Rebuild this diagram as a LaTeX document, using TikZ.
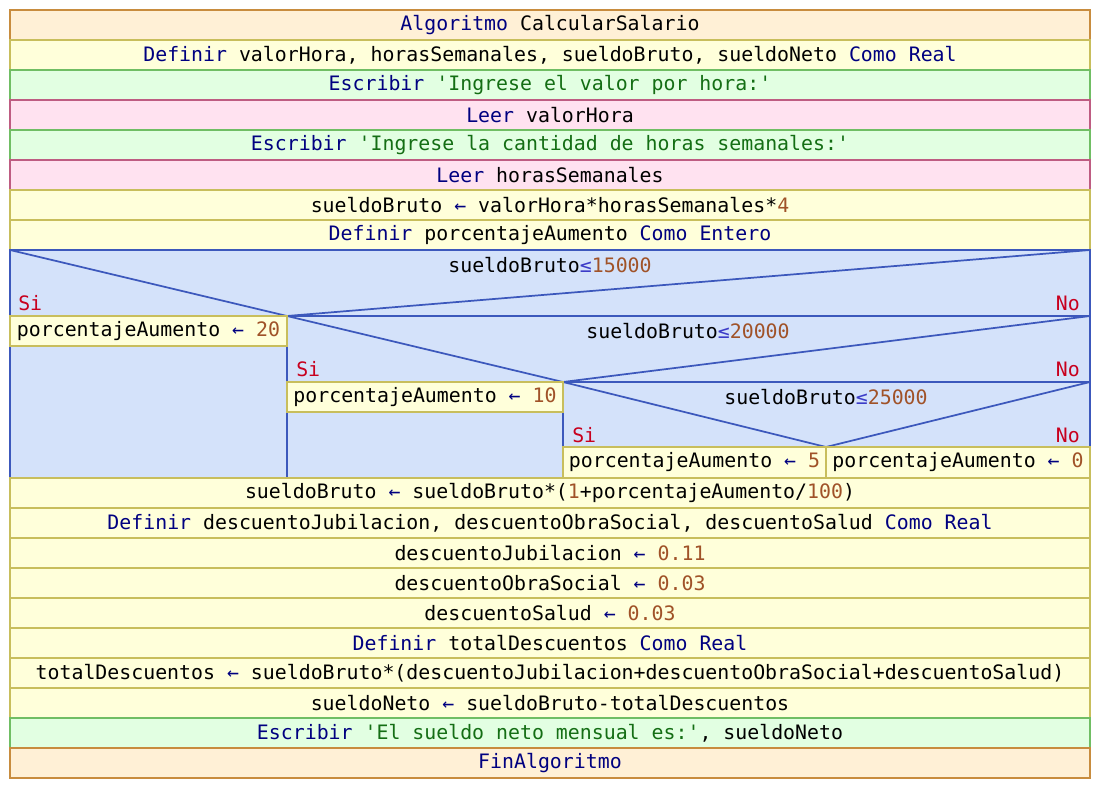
\documentclass[tikz,border=0pt]{standalone}
\usepackage{fontspec}
\setmonofont{DejaVu Sans Mono}

\definecolor{algfill}{RGB}{255,240,214}
\definecolor{algline}{RGB}{200,140,62}
\definecolor{deffill}{RGB}{255,255,218}
\definecolor{defline}{RGB}{200,190,92}
\definecolor{escfill}{RGB}{226,255,226}
\definecolor{escline}{RGB}{112,190,100}
\definecolor{leefill}{RGB}{255,226,240}
\definecolor{leeline}{RGB}{190,92,130}
\definecolor{siffill}{RGB}{212,226,250}
\definecolor{sifline}{RGB}{60,88,188}
\definecolor{kwdcol}{RGB}{0,0,128}
\definecolor{txtcol}{RGB}{20,110,20}
\definecolor{nmbcol}{RGB}{160,82,40}
\definecolor{mnrcol}{RGB}{60,60,200}
\definecolor{sinocol}{RGB}{200,0,30}

\newcommand{\kwd}[1]{\textcolor{kwdcol}{#1}}
\newcommand{\txt}[1]{\textcolor{txtcol}{#1}}
\newcommand{\nmb}[1]{\textcolor{nmbcol}{#1}}
\newcommand{\asig}{\textcolor{kwdcol}{←}}
\newcommand{\mnr}{\textcolor{mnrcol}{≤}}

\tikzset{
  algrow/.style={fill=algfill, draw=algline, line width=1.2pt},
  defrow/.style={fill=deffill, draw=defline, line width=1.2pt},
  escrow/.style={fill=escfill, draw=escline, line width=1.2pt},
  leerow/.style={fill=leefill, draw=leeline, line width=1.2pt},
  sifrow/.style={fill=siffill, draw=sifline, line width=1.2pt},
  sifline/.style={draw=sifline, line width=1.3pt},
  sino/.style={text=sinocol}
}

\begin{document}
\begin{tikzpicture}[x=0.75pt, y=-0.75pt,
    every node/.style={font=\ttfamily\fontsize{14.9}{18}\selectfont, inner sep=0pt}]
  \useasboundingbox (0,0) rectangle (1100,788);

  \draw[algrow] (10,10) rectangle (1090,40) node[midway] (inicio) {\kwd{Algoritmo} CalcularSalario};
  \draw[defrow] (10,40) rectangle (1090,70) node[midway] (defvars) {\kwd{Definir} valorHora, horasSemanales, sueldoBruto, sueldoNeto \kwd{Como Real}};
  \draw[escrow] (10,70) rectangle (1090,100) node[midway] (escvalor) {\kwd{Escribir} \txt{'Ingrese el valor por hora:'}};
  \draw[leerow] (10,100) rectangle (1090,130) node[midway] (leevalor) {\kwd{Leer} valorHora};
  \draw[escrow] (10,130) rectangle (1090,160) node[midway] (eschoras) {\kwd{Escribir} \txt{'Ingrese la cantidad de horas semanales:'}};
  \draw[leerow] (10,160) rectangle (1090,190) node[midway] (leehoras) {\kwd{Leer} horasSemanales};
  \draw[defrow] (10,190) rectangle (1090,220) node[midway] (calcbruto) {sueldoBruto \asig{} valorHora*horasSemanales*\nmb{4}};
  \draw[defrow] (10,220) rectangle (1090,250) node[midway] (defporc) {\kwd{Definir} porcentajeAumento \kwd{Como Entero}};

  % bloque de condiciones
  \draw[sifrow] (10,250) rectangle (1090,478);
  \coordinate (sia) at (287,316);
  \coordinate (sib) at (563,382);
  \coordinate (sic) at (826,447);
  \draw[sifline] (10,250) -- (sia) -- (1090,250);
  \draw[sifline] (sia) -- (1090,316);
  \draw[sifline] (sia) -- (sib) -- (1090,316);
  \draw[sifline] (sib) -- (1090,382);
  \draw[sifline] (sib) -- (sic) -- (1090,382);
  \draw[sifline] (sia) -- (287,478);
  \draw[sifline] (sib) -- (563,478);
  \node (cond1) at (550,265) {sueldoBruto\mnr\nmb{15000}};
  \node (cond2) at (688,331) {sueldoBruto\mnr\nmb{20000}};
  \node (cond3) at (826,397) {sueldoBruto\mnr\nmb{25000}};
  \node[sino, anchor=west] (si1) at (18,303) {Si};
  \node[sino, anchor=east] (no1) at (1080,303) {No};
  \node[sino, anchor=west] (si2) at (296,369) {Si};
  \node[sino, anchor=east] (no2) at (1080,369) {No};
  \node[sino, anchor=west] (si3) at (572,435) {Si};
  \node[sino, anchor=east] (no3) at (1080,435) {No};
  \draw[defrow] (10,316) rectangle (287,346) node[midway] (porc20) {porcentajeAumento \asig{} \nmb{20}};
  \draw[defrow] (287,382) rectangle (563,412) node[midway] (porc10) {porcentajeAumento \asig{} \nmb{10}};
  \draw[defrow] (563,447) rectangle (826,478) node[midway] (porc5) {porcentajeAumento \asig{} \nmb{5}};
  \draw[defrow] (826,447) rectangle (1090,478) node[midway] (porc0) {porcentajeAumento \asig{} \nmb{0}};

  \draw[defrow] (10,478) rectangle (1090,508) node[midway] (nuevobruto) {sueldoBruto \asig{} sueldoBruto*(\nmb{1}+porcentajeAumento/\nmb{100})};
  \draw[defrow] (10,508) rectangle (1090,538) node[midway] (defdesc) {\kwd{Definir} descuentoJubilacion, descuentoObraSocial, descuentoSalud \kwd{Como Real}};
  \draw[defrow] (10,538) rectangle (1090,568) node[midway] (descjub) {descuentoJubilacion \asig{} \nmb{0.11}};
  \draw[defrow] (10,568) rectangle (1090,598) node[midway] (descobra) {descuentoObraSocial \asig{} \nmb{0.03}};
  \draw[defrow] (10,598) rectangle (1090,628) node[midway] (descsalud) {descuentoSalud \asig{} \nmb{0.03}};
  \draw[defrow] (10,628) rectangle (1090,658) node[midway] (deftotal) {\kwd{Definir} totalDescuentos \kwd{Como Real}};
  \draw[defrow] (10,658) rectangle (1090,688) node[midway] (calctotal) {totalDescuentos \asig{} sueldoBruto*(descuentoJubilacion+descuentoObraSocial+descuentoSalud)};
  \draw[defrow] (10,688) rectangle (1090,718) node[midway] (calcneto) {sueldoNeto \asig{} sueldoBruto-totalDescuentos};
  \draw[escrow] (10,718) rectangle (1090,748) node[midway] (escneto) {\kwd{Escribir} \txt{'El sueldo neto mensual es:'}, sueldoNeto};
  \draw[algrow] (10,748) rectangle (1090,778) node[midway] (fin) {\kwd{FinAlgoritmo}};
\end{tikzpicture}
\end{document}
